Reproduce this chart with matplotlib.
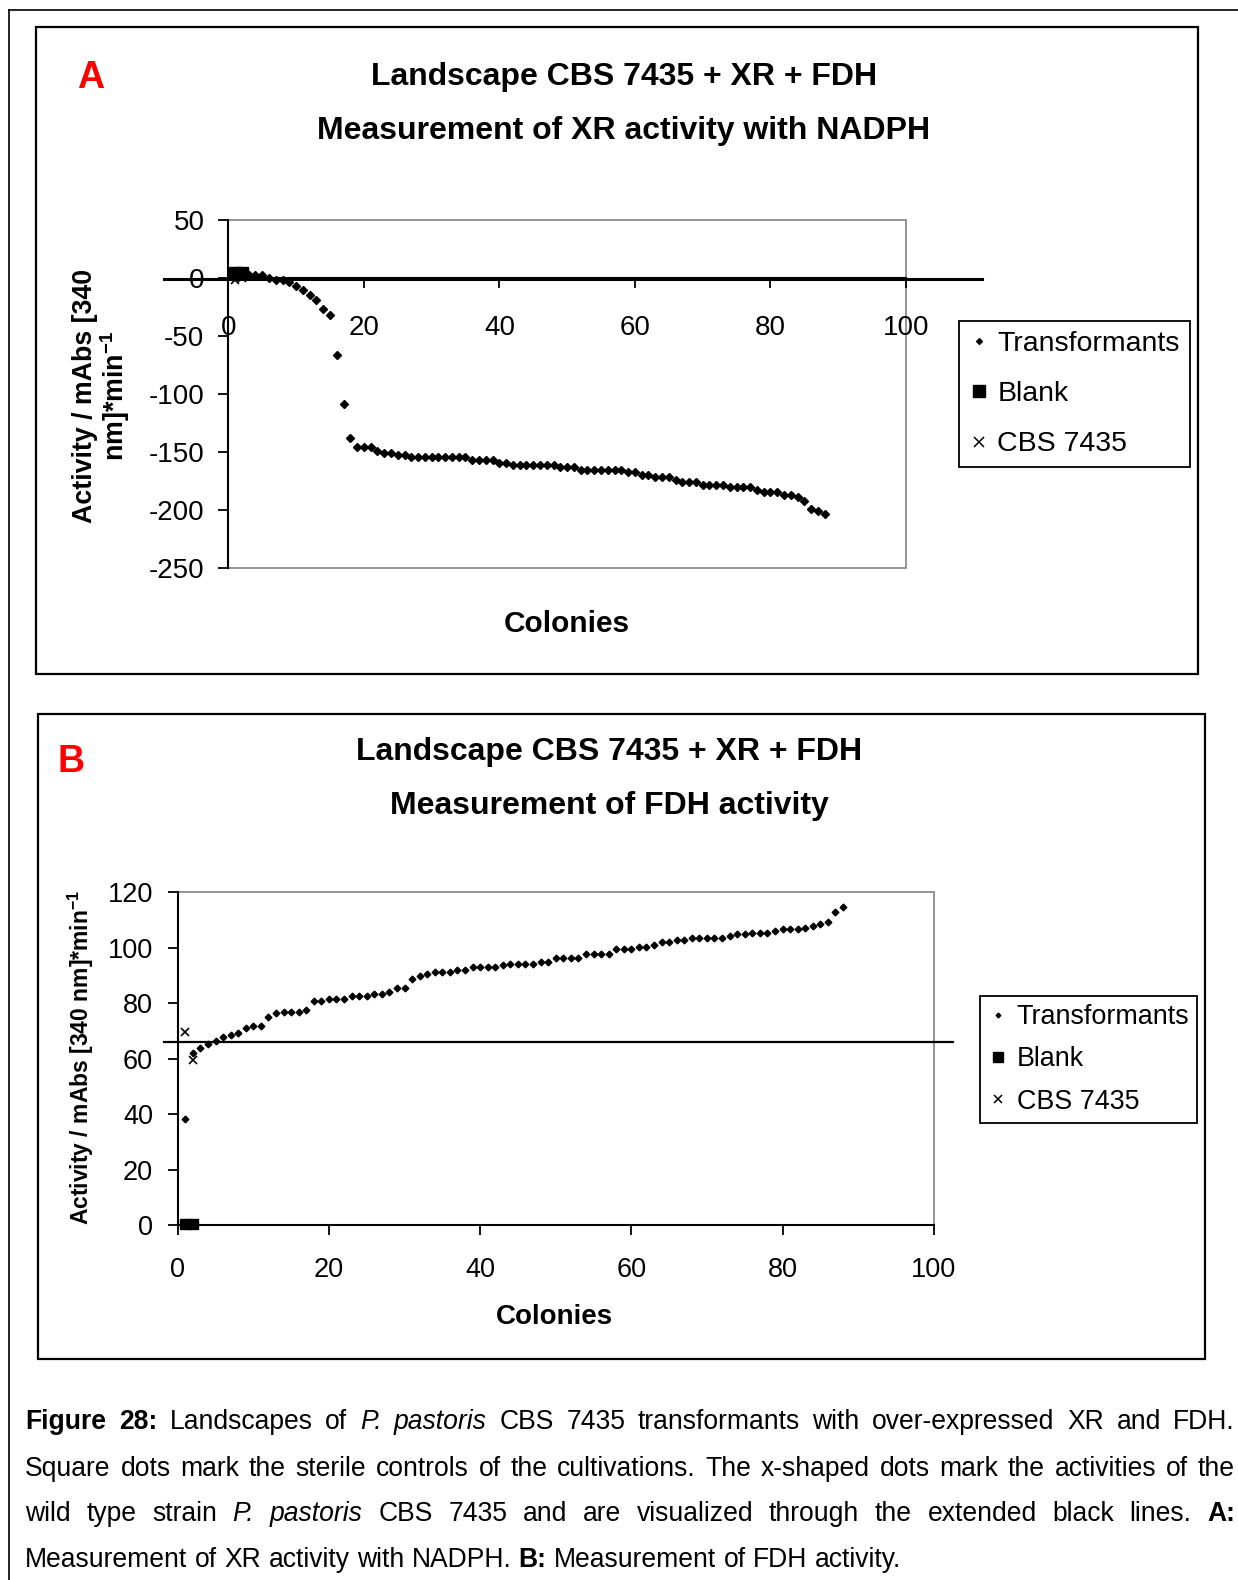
import numpy as np
import matplotlib.pyplot as plt
from matplotlib.lines import Line2D
from matplotlib.patches import Rectangle

plt.rcParams['font.family'] = ['Liberation Sans', 'DejaVu Sans']
plt.rcParams['mathtext.fontset'] = 'custom'
plt.rcParams['mathtext.rm'] = 'Liberation Sans'
plt.rcParams['mathtext.bf'] = 'Liberation Sans:bold'
plt.rcParams['axes.unicode_minus'] = False

# --- data -------------------------------------------------------------
# XR activity with NADPH, transformants sorted by activity
xr_transformants = [5, 4, 3, 3, 3, 0, -1.4, -2, -3.7, -6.6,
                    -10, -14.3, -18.6, -26.7, -31.5, -66.6, -108.5, -137.8, -145.8, -145.8,
                    -145.8, -148.7, -150.7, -150.7, -152.7, -152.7, -154.4, -154.4, -154.4, -154.4,
                    -154.4, -154.4, -154.4, -154.4, -154.4, -157, -157, -157, -157, -159,
                    -159, -160.7, -160.7, -160.7, -160.7, -160.7, -160.7, -160.7, -163, -163,
                    -163, -165.4, -165.4, -165.4, -165.4, -165.4, -165.4, -165.4, -167.4, -167.4,
                    -169.4, -169.4, -171.4, -171.4, -171.4, -173.7, -175.7, -175.7, -175.7, -178,
                    -178, -178, -178, -180.3, -180.3, -180.3, -180.3, -182.9, -184.6, -184.6,
                    -184, -186.6, -186.6, -188.9, -192.3, -199, -201, -203]
xr_blank_x = [1, 2]
xr_blank = [4, 4]
xr_cbs_x = [1, 2]
xr_cbs = [-2, 0]
xr_cbs_line = -1

# FDH activity, transformants sorted by activity
fdh_transformants = [38.1, 62.2, 64.0, 65.3, 66.5, 67.9, 68.5, 69.1, 71.0, 71.8,
                     71.8, 74.9, 76.4, 77.0, 77.0, 77.0, 77.6, 80.8, 80.8, 81.4,
                     81.4, 81.4, 82.7, 82.7, 82.7, 83.3, 83.3, 83.9, 85.4, 85.4,
                     88.6, 89.8, 90.5, 91.2, 91.2, 91.2, 91.8, 91.8, 92.9, 92.9,
                     92.9, 92.9, 93.7, 94.3, 94.3, 94.3, 94.3, 95.0, 95.0, 96.2,
                     96.2, 96.2, 96.2, 97.7, 97.7, 97.7, 97.7, 99.4, 99.4, 99.4,
                     100.2, 100.2, 101.0, 102.2, 102.0, 102.8, 102.8, 103.4, 103.4, 103.4,
                     103.4, 103.4, 104.3, 104.9, 104.9, 105.5, 105.5, 105.5, 106.2, 106.7,
                     106.7, 106.7, 107.3, 108.0, 108.5, 109.2, 113.0, 114.6]
fdh_blank_x = [1, 2]
fdh_blank = [0.5, 0.5]
fdh_cbs_x = [1, 2]
fdh_cbs = [69.7, 59.4]
fdh_cbs_line = 65.9

colonies_xr = np.arange(1, len(xr_transformants) + 1)
colonies_fdh = np.arange(1, len(fdh_transformants) + 1)
series_names = ['Transformants', 'Blank', 'CBS 7435']

# --- figure in pixel units ---------------------------------------------
W, H = 1238, 1580
fig = plt.figure(figsize=(W / 100, H / 100), dpi=100)


def fx(px):
    return px / W


def fy(py):
    return 1 - py / H


def box(x0, y0, x1, y1, lw=1.6):
    fig.add_artist(Rectangle((fx(x0), fy(y1)), (x1 - x0) / W, (y1 - y0) / H,
                             transform=fig.transFigure, fill=False,
                             ec='black', lw=lw))


# outer page frame
fig.add_artist(Line2D([fx(9), 1], [fy(10), fy(10)], color='black', lw=1.2))
fig.add_artist(Line2D([fx(9), fx(9)], [fy(10), 0], color='black', lw=1.2))

# panel frames
box(36.3, 27.2, 1197.7, 673.9)
box(38.3, 714.2, 1204.8, 1358.9)


def style_axes(ax, tick_size, xpad, ypad):
    for s in ax.spines.values():
        s.set_visible(False)
    ax.add_patch(Rectangle((0, 0), 1, 1, transform=ax.transAxes, fill=False,
                           ec='#8c8c8c', lw=1.3, zorder=0, clip_on=False))
    ax.spines['left'].set_visible(True)
    ax.spines['left'].set_linewidth(1.5)
    ax.spines['bottom'].set_visible(True)
    ax.spines['bottom'].set_linewidth(1.5)
    ax.tick_params(axis='both', direction='out', length=7.2, width=1.3,
                   labelsize=tick_size, color='black')
    ax.tick_params(axis='x', pad=xpad)
    ax.tick_params(axis='y', pad=ypad)
    ax.set_xlim(0, 100)
    ax.set_xticks(range(0, 101, 20))


def legend_handles(d_ms, s_ms, x_ms):
    return [Line2D([], [], ls='none', marker='D', ms=d_ms, color='black'),
            Line2D([], [], ls='none', marker='s', ms=s_ms, color='black'),
            Line2D([], [], ls='none', marker='x', ms=x_ms, mew=1.1, color='black')]


# --- panel A: XR ------------------------------------------------------
axA = fig.add_axes([fx(228.3), fy(568.3), (906 - 228.3) / W, (568.3 - 220) / H])
axA.plot(colonies_xr, xr_transformants, ls='none', marker='D', ms=4.0,
         color='black', zorder=5)
axA.plot(xr_blank_x, xr_blank, ls='none', marker='s', ms=8, color='black', zorder=4)
axA.plot(xr_cbs_x, xr_cbs, ls='none', marker='x', ms=6, mew=1.2, color='black', zorder=4)
axA.plot([-9.5, 111.2], [xr_cbs_line, xr_cbs_line], color='black', lw=2.2,
         clip_on=False, zorder=3)
style_axes(axA, 20, 19.5, 10)
axA.spines['bottom'].set_position(('data', 0))
axA.set_ylim(-250, 50)
axA.set_yticks(range(-250, 51, 50))
axA.legend(legend_handles(3.0, 8.5, 7), series_names, loc='center',
           bbox_to_anchor=(fx(1074.3), fy(394)), bbox_transform=fig.transFigure,
           fancybox=False, edgecolor='black', fontsize=20.5, handlelength=0.7,
           handletextpad=0.3, labelspacing=0.86, borderpad=0.35,
           framealpha=1).get_frame().set_linewidth(1.3)

fig.text(fx(91), fy(78), 'A', color='#ff0000', fontsize=27, fontweight='bold',
         ha='center', va='center')
fig.text(fx(624), fy(76.5), 'Landscape CBS 7435 + XR + FDH', fontsize=23,
         fontweight='bold', ha='center', va='center')
fig.text(fx(624), fy(131), 'Measurement of XR activity with NADPH', fontsize=23,
         fontweight='bold', ha='center', va='center')
fig.text(fx(567), fy(623.5), 'Colonies', fontsize=21.5, fontweight='bold',
         ha='center', va='center')
fig.text(fx(102), fy(396), 'Activity / mAbs [340\nnm]*min$^{\\mathbf{-1}}$',
         fontsize=19.3, fontweight='bold', rotation=90, ha='center', va='center',
         multialignment='center', linespacing=1.0)

# --- panel B: FDH -----------------------------------------------------
axB = fig.add_axes([fx(177.7), fy(1225), 756 / W, (1225 - 892.3) / H])
axB.plot(colonies_fdh, fdh_transformants, ls='none', marker='D', ms=3.4,
         color='black', zorder=5)
axB.plot(fdh_blank_x, fdh_blank, ls='none', marker='s', ms=7.5, color='black',
         zorder=4, clip_on=False)
axB.plot(fdh_cbs_x, fdh_cbs, ls='none', marker='x', ms=6, mew=1.2, color='black', zorder=4)
axB.plot([-1.8, 102.6], [fdh_cbs_line, fdh_cbs_line], color='black', lw=1.6,
         clip_on=False, zorder=3)
style_axes(axB, 19.5, 15.5, 10.5)
axB.set_ylim(0, 120)
axB.set_yticks(range(0, 121, 20))
axB.legend(legend_handles(2.4, 7, 6), series_names, loc='center',
           bbox_to_anchor=(fx(1088.8), fy(1059.5)), bbox_transform=fig.transFigure,
           fancybox=False, edgecolor='black', fontsize=19.4, handlelength=0.7,
           handletextpad=0.35, labelspacing=0.6, borderpad=0.3,
           framealpha=1).get_frame().set_linewidth(1.3)

fig.text(fx(71.5), fy(762.5), 'B', color='#ff0000', fontsize=27, fontweight='bold',
         ha='center', va='center')
fig.text(fx(609), fy(752), 'Landscape CBS 7435 + XR + FDH', fontsize=23,
         fontweight='bold', ha='center', va='center')
fig.text(fx(609), fy(806.5), 'Measurement of FDH activity', fontsize=23,
         fontweight='bold', ha='center', va='center')
fig.text(fx(554), fy(1317.5), 'Colonies', fontsize=20, fontweight='bold',
         ha='center', va='center')
fig.text(fx(80.6), fy(1057.7), 'Activity / mAbs [340 nm]*min$^{\\mathbf{-1}}$',
         fontsize=16.5, fontweight='bold', rotation=90, ha='center', va='center')

# --- caption (justified) ----------------------------------------------
caption_lines = [
    [('Figure', 'b'), ('28:', 'b'), ('Landscapes', 'r'), ('of', 'r'), ('P.', 'i'),
     ('pastoris', 'i'), ('CBS', 'r'), ('7435', 'r'), ('transformants', 'r'),
     ('with', 'r'), ('over-expressed', 'r'), ('XR', 'r'), ('and', 'r'), ('FDH.', 'r')],
    [(w, 'r') for w in 'Square dots mark the sterile controls of the cultivations. '
     'The x-shaped dots mark the activities of the'.split()],
    [('wild', 'r'), ('type', 'r'), ('strain', 'r'), ('P.', 'i'), ('pastoris', 'i')]
    + [(w, 'r') for w in 'CBS 7435 and are visualized through the extended black lines.'.split()]
    + [('A:', 'b')],
    [(w, 'r') for w in 'Measurement of XR activity with NADPH.'.split()] + [('B:', 'b')]
    + [(w, 'r') for w in 'Measurement of FDH activity.'.split()],
]
caption_y = [1422, 1468.7, 1514, 1560.3]
cap_left, cap_right = 25.2, 1235
cap_size = 19.1

renderer = fig.canvas.get_renderer()
for i, (words, y) in enumerate(zip(caption_lines, caption_y)):
    texts = []
    for w, st in words:
        t = fig.text(0, fy(y), w, fontsize=cap_size, va='center', ha='left',
                     fontweight='bold' if st == 'b' else 'normal',
                     fontstyle='italic' if st == 'i' else 'normal')
        texts.append(t)
    widths = [t.get_window_extent(renderer).width for t in texts]
    if i < len(caption_lines) - 1:
        gap = (cap_right - cap_left - sum(widths)) / (len(texts) - 1)
    else:
        gap = cap_size * 100 / 72 * 0.278
    x = cap_left
    for t, wd in zip(texts, widths):
        t.set_x(fx(x))
        x += wd + gap

fig.savefig('out.png', dpi=100)
